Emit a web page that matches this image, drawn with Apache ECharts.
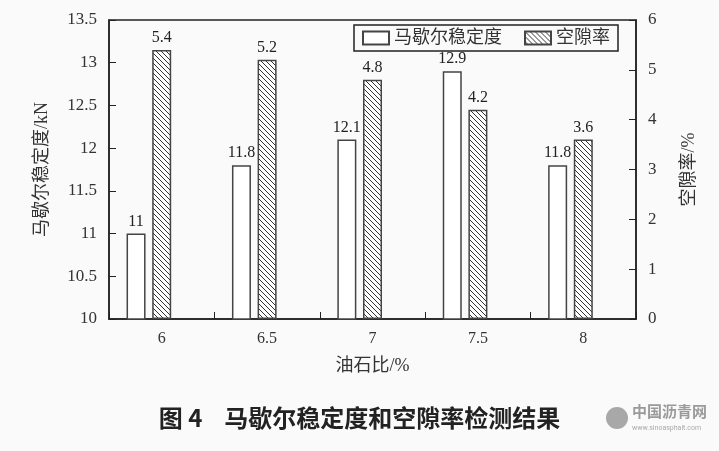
<!DOCTYPE html>
<html><head><meta charset="utf-8">
<script src="https://cdn.jsdelivr.net/npm/echarts@6/dist/echarts.min.js"></script>
<style>html,body{margin:0;padding:0;background:#fafafa;}#c{width:719px;height:451px;}</style>
</head><body><div id="c"></div>
<script>
const categories = ['6', '6.5', '7', '7.5', '8'];
const stability = [11, 11.8, 12.1, 12.9, 11.8];
const voids = [5.4, 5.2, 4.8, 4.2, 3.6];
const spacer = [null, null, null, null, null];

function hatch() {
  const s = 5, c = document.createElement('canvas');
  c.width = s; c.height = s;
  const g = c.getContext('2d');
  g.fillStyle = '#ffffff'; g.fillRect(0, 0, s, s);
  g.strokeStyle = '#333'; g.lineWidth = 1;
  g.beginPath();
  g.moveTo(-1, -1); g.lineTo(s + 1, s + 1);
  g.moveTo(s - 1, -1); g.lineTo(s + 1, 1);
  g.moveTo(-1, s - 1); g.lineTo(1, s + 1);
  g.stroke();
  return c;
}
const serif = '"Liberation Serif", "DejaVu Serif", "Noto Sans CJK SC", serif';
const chart = echarts.init(document.getElementById('c'));
const lbl = { show: true, position: 'top', fontFamily: serif, fontSize: 16, color: '#222', distance: 4 };
chart.setOption({
  backgroundColor: '#fafafa',
  animation: false,
  textStyle: { fontFamily: serif },
  grid: { left: 109, right: 83, top: 20, bottom: 132, show: true, borderColor: '#222', borderWidth: 1.5, backgroundColor: 'transparent' },
  legend: {
    data: ['马歇尔稳定度', '空隙率'],
    right: 101, top: 25, icon: 'rect',
    borderColor: '#222', borderWidth: 1.5, padding: [4, 8, 4, 8],
    itemWidth: 26, itemHeight: 13, itemGap: 22,
    textStyle: { fontSize: 18, color: '#333', fontFamily: serif }
  },
  xAxis: {
    type: 'category', data: categories,
    name: '油石比/%', nameLocation: 'middle', nameGap: 38,
    nameTextStyle: { fontSize: 18, color: '#333', fontFamily: serif },
    axisLine: { lineStyle: { color: '#222', width: 1.5 } },
    axisTick: { show: true, inside: true, length: 7, lineStyle: { color: '#222', width: 1 } },
    axisLabel: { fontSize: 16, color: '#333', margin: 12, fontFamily: serif }
  },
  yAxis: [{
    type: 'value', min: 10, max: 13.5, interval: 0.5,
    name: '马歇尔稳定度/kN', nameLocation: 'middle', nameGap: 58, nameRotate: 90,
    nameTextStyle: { fontSize: 18, color: '#333', fontFamily: serif },
    axisLine: { show: true, lineStyle: { color: '#222', width: 1.5 } },
    axisTick: { show: true, inside: true, length: 7, lineStyle: { color: '#222' } },
    axisLabel: { fontSize: 17, color: '#333', margin: 12, fontFamily: serif },
    splitLine: { show: false }
  }, {
    type: 'value', min: 0, max: 6, interval: 1,
    name: '空隙率/%', nameLocation: 'middle', nameGap: 44, nameRotate: 90,
    nameTextStyle: { fontSize: 18, color: '#333', fontFamily: serif },
    axisLine: { show: true, lineStyle: { color: '#222', width: 1.5 } },
    axisTick: { show: true, inside: true, length: 7, lineStyle: { color: '#222' } },
    axisLabel: { fontSize: 17, color: '#333', margin: 12, fontFamily: serif },
    splitLine: { show: false }
  }],
  series: [{
    name: '马歇尔稳定度', type: 'bar', yAxisIndex: 0, data: stability,
    barWidth: 19, barGap: '35%',
    itemStyle: { color: '#ffffff', borderColor: '#444', borderWidth: 1.5 },
    label: lbl
  }, {
    name: '空隙率', type: 'bar', yAxisIndex: 1, data: voids,
    barWidth: 19, barGap: '35%',
    itemStyle: { color: { image: hatch(), repeat: 'repeat' }, borderColor: '#444', borderWidth: 1.5 },
    label: lbl
  }, {
    name: 'spacer', type: 'bar', yAxisIndex: 1, data: spacer,
    barWidth: 19, barGap: '35%', silent: true,
    itemStyle: { color: 'transparent' }
  }],
  graphic: [{
    type: 'text', left: 'center', top: 406,
    style: { text: '图 4    马歇尔稳定度和空隙率检测结果', fontSize: 24, fontWeight: 'bold',
      fontFamily: '"Noto Sans CJK SC", sans-serif', fill: '#222' }
  }, {
    type: 'circle', shape: { cx: 617, cy: 418, r: 11 },
    style: { fill: '#a8a8a8' }
  }, {
    type: 'text', left: 632, top: 404,
    style: { text: '中国沥青网', fontSize: 15, fontWeight: 'bold', fill: '#9a9a9a',
      fontFamily: '"Noto Sans CJK SC", sans-serif' }
  }, {
    type: 'text', left: 632, top: 425,
    style: { text: 'www.sinoasphalt.com', fontSize: 7, fill: '#aaa', fontFamily: 'Roboto, sans-serif' }
  }]
});
</script></body></html>
